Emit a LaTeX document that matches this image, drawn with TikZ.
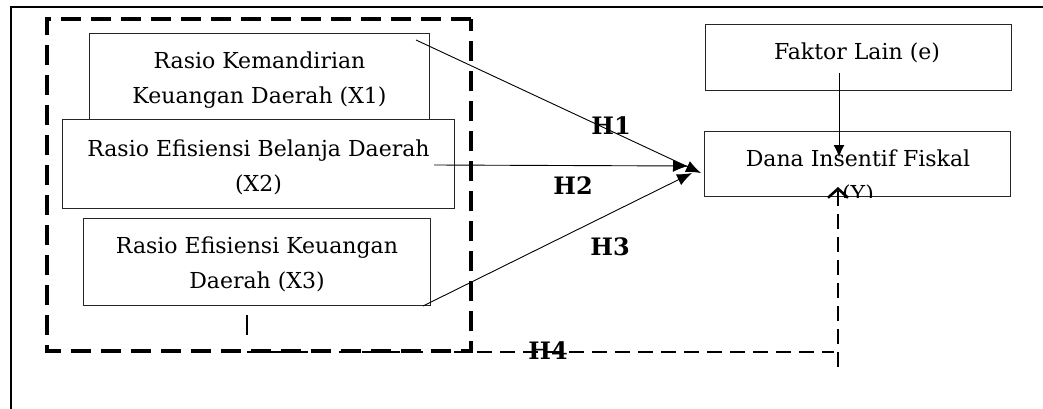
\documentclass[tikz,border=0pt]{standalone}
\usepackage{fontspec}
\setmainfont{DejaVu Serif}
\usetikzlibrary{arrows.meta,calc}
\begin{document}
\begin{tikzpicture}[x=1pt,y=-1pt,
  box/.style={draw=black!85,line width=1pt,inner sep=0pt,anchor=north west},
  lbl/.style={font=\fontsize{22}{35}\selectfont,align=center},
  hyp/.style={font=\fontsize{24}{28}\selectfont\bfseries,inner sep=0pt},
  conn/.style={line width=0.9pt,-{Latex[length=15pt,width=12pt]}},
  bigdash/.style={line width=3.2pt,dash pattern=on 20pt off 10pt},
  middash/.style={line width=2.4pt,dash pattern=on 15pt off 8pt}]
\useasboundingbox (0,0) rectangle (1043,409);
% outer frame (top and left edges)
\draw[line width=1.8pt] (1043,7) -- (11,7) -- (11,409);
% thick dashed group
\draw[bigdash] (471,19) -- (47,19) -- (47,351) -- (471,351) -- cycle;
% boxes
\node[box,minimum width=340pt,minimum height=86pt] (x1) at (89,33) {};
\node[lbl] at ($(x1.center)+(0,4)$) {Rasio Kemandirian\\Keuangan Daerah (X1)};
\node[box,fill=white,minimum width=392pt,minimum height=89pt] (x2) at (62,119) {};
\node[lbl] at ($(x2.center)+(0,3)$) {Rasio Efisiensi Belanja Daerah\\(X2)};
\node[box,minimum width=347pt,minimum height=87pt] (x3) at (83,218) {};
\node[lbl] at ($(x3.center)+(0,2)$) {Rasio Efisiensi Keuangan\\Daerah (X3)};
\node[box,minimum width=306pt,minimum height=66pt] (fl) at (705,24) {};
\node[lbl] at (857,53) {Faktor Lain (e)};
\node[box,minimum width=306pt,minimum height=65pt] (y) at (704,131) {};
\begin{scope}
  \clip (y.north west) rectangle (y.south east);
  \node[lbl,anchor=north] at (858,146) {Dana Insentif Fiskal\\(Y)};
\end{scope}
% small tick
\coordinate (tk1) at (247,315);
\coordinate (tk2) at (247,335);
\draw[line width=1.8pt] (tk1) -- (tk2);
% connectors
\coordinate (s1) at ($(x1.north east)+(-14,7)$);
\coordinate (e1) at (701,173);
\coordinate (s2) at (434,165);
\coordinate (e2) at (688,166);
\coordinate (s3) at ($(x3.south east)+(-8,0)$);
\coordinate (e3) at (692,173);
\draw[conn] (s1) -- (e1);
\draw[conn] (s2) -- (e2);
\draw[conn] (s3) -- (e3);
\coordinate (fs) at (839,73);
\coordinate (fe) at (839,157);
\draw[conn,-{Latex[length=12pt,width=11pt]}] (fs) -- (fe);
% H4 dashed path
\coordinate (h4a) at (247,352);
\coordinate (h4b) at (834,352);
\coordinate (h4c) at (838,367);
\coordinate (h4d) at (838,187);
\draw[middash] (h4a) -- (h4b);
\draw[middash,-{Straight Barb[length=9pt,width=20pt,line width=2.6pt]}] (h4c) -- (h4d);
% labels
\node[hyp] at (611,126) {H1};
\node[hyp] at (573,186) {H2};
\node[hyp] at (610,247) {H3};
\node[hyp] at (548,351) {H4};
\end{tikzpicture}
\end{document}
